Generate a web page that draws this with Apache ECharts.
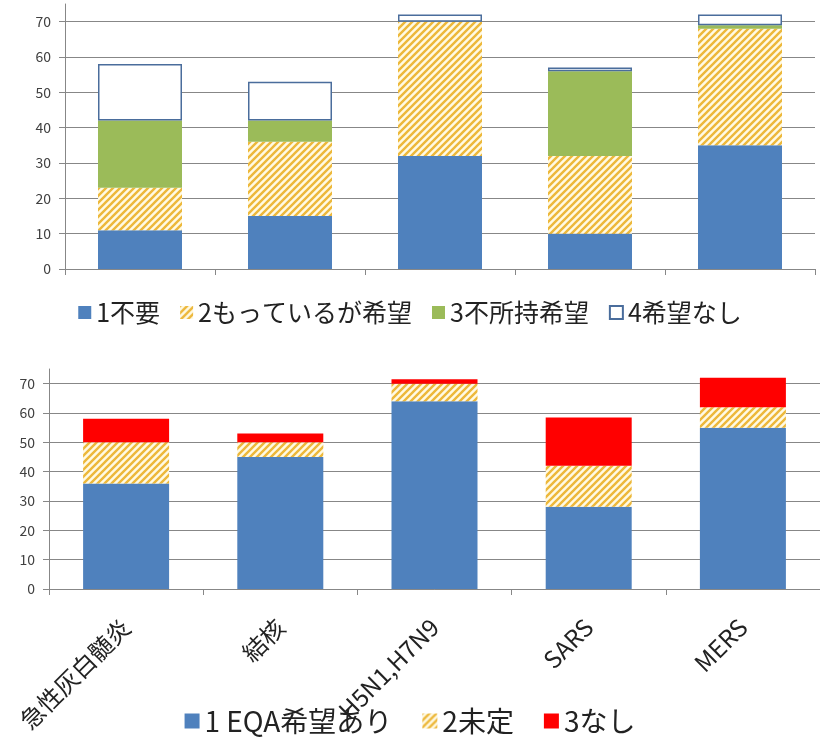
<!DOCTYPE html>
<html>
<head>
<meta charset="utf-8">
<script src="https://cdn.jsdelivr.net/npm/echarts@6/dist/echarts.min.js"></script>
<style>
  html, body { margin: 0; padding: 0; background: #fff; }
  #chart { width: 820px; height: 739px; }
</style>
</head>
<body>
<div id="chart"></div>
<script>
var categories = ['急性灰白髄炎', '結核', 'H5N1,H7N9', 'SARS', 'MERS'];

// top chart
var topNames = ['1不要', '2もっているが希望', '3不所持希望', '4希望なし'];
var topUnneeded = [11, 15, 32, 10, 35];
var topHaveWant = [12, 21, 38, 22, 33];
var topNoneWant = [19, 6, 0, 24, 1];
var topNoWish = [16, 11, 2, 1, 3];

// bottom chart
var bottomNames = ['1 EQA希望あり', '2未定', '3なし'];
var eqaYes = [36, 45, 64, 28, 55];
var eqaUndecided = [14, 5, 6, 14, 7];
var eqaNo = [8, 3, 1.5, 16.5, 10];

var yTicks = [0, 10, 20, 30, 40, 50, 60, 70];

// diagonal hatch for the "2" series
var makeHatch = function(){
    var s = 7;
    var c = document.createElement('canvas');
    c.width = s; c.height = s;
    var ctx = c.getContext('2d');
    ctx.fillStyle = '#fffae4';
    ctx.fillRect(0, 0, s, s);
    ctx.strokeStyle = '#edb83a';
    ctx.lineWidth = 2.4;
    ctx.beginPath();
    ctx.moveTo(-s, s); ctx.lineTo(s, -s);
    ctx.moveTo(0, s); ctx.lineTo(s, 0);
    ctx.moveTo(0, 2 * s); ctx.lineTo(2 * s, 0);
    ctx.stroke();
    return {image: c, repeat: 'repeat'};
};
var hatch = makeHatch();

var myChart = echarts.init(document.getElementById('chart'), null, {renderer: 'canvas'});

var font = '"Noto Sans CJK JP", "Noto Sans", sans-serif';
var axisGray = '#878787';

var makeY = function(gridIndex, fontSize, margin){
    return {
        type: 'value', gridIndex: gridIndex,
        min: 0, max: 75, interval: 10,
        axisLine: {show: true, lineStyle: {color: axisGray}},
        axisTick: {show: true, length: 6, lineStyle: {color: axisGray}},
        splitLine: {show: true, showMaxLine: false, lineStyle: {color: axisGray, width: 1}},
        axisLabel: {
            showMaxLabel: false, fontSize: fontSize, color: '#404040',
            fontFamily: font, margin: margin,
            formatter: function(v){ return yTicks.indexOf(v) >= 0 ? String(v) : ''; }
        }
    };
};

var makeX = function(gridIndex, showLabel){
    return {
        type: 'category', gridIndex: gridIndex, data: categories,
        axisLine: {show: true, lineStyle: {color: axisGray}},
        axisTick: {show: true, length: 6, lineStyle: {color: axisGray}},
        axisLabel: showLabel ? {
            show: true, rotate: 45, interval: 0, fontSize: 24, color: '#222',
            fontFamily: font, margin: 34
        } : {show: false}
    };
};

var bar = function(name, data, style, axisIdx, width){
    return {
        name: name, type: 'bar', stack: 's' + axisIdx,
        xAxisIndex: axisIdx, yAxisIndex: axisIdx,
        barWidth: width, data: data, itemStyle: style,
        emphasis: {disabled: true}, animation: false
    };
};

var option = {
    animation: false,
    textStyle: {fontFamily: font},
    grid: [
        {left: 65, top: 4, width: 750, height: 265},
        {left: 49, top: 369, width: 783, height: 220}
    ],
    xAxis: [makeX(0, false), makeX(1, true)],
    yAxis: [makeY(0, 14, 14), makeY(1, 14, 14)],
    legend: [
        {
            data: topNames, top: 295, left: 'center', itemGap: 20,
            icon: 'rect', itemWidth: 13, itemHeight: 13,
            textStyle: {fontSize: 25, color: '#222', fontFamily: font}
        },
        {
            data: bottomNames, top: 702, left: 'center', itemGap: 30,
            icon: 'rect', itemWidth: 15, itemHeight: 15,
            textStyle: {fontSize: 28, color: '#222', fontFamily: font}
        }
    ],
    series: [
        bar(topNames[0], topUnneeded, {color: '#4f81bd'}, 0, 84),
        bar(topNames[1], topHaveWant, {color: hatch}, 0, 84),
        bar(topNames[2], topNoneWant, {color: '#9bbb59'}, 0, 84),
        bar(topNames[3], topNoWish, {color: '#ffffff', borderColor: '#4a6d9c', borderWidth: 1.5}, 0, 84),
        bar(bottomNames[0], eqaYes, {color: '#4f81bd'}, 1, 86),
        bar(bottomNames[1], eqaUndecided, {color: hatch}, 1, 86),
        bar(bottomNames[2], eqaNo, {color: '#ff0000'}, 1, 86)
    ]
};

myChart.setOption(option);
</script>
</body>
</html>
